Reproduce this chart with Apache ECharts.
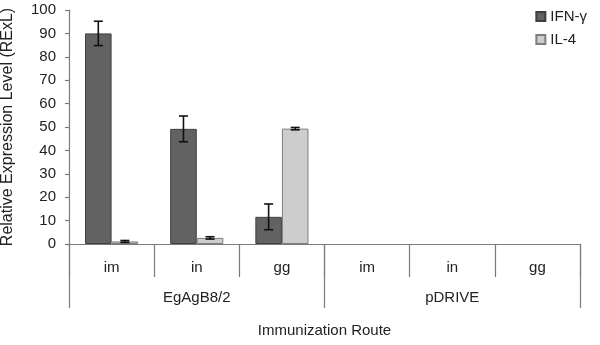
<!DOCTYPE html>
<html>
<head>
<meta charset="utf-8">
<script src="https://cdn.jsdelivr.net/npm/echarts@6/dist/echarts.min.js"></script>
<style>
  html, body { margin: 0; padding: 0; background: #fff; }
  #chart { width: 600px; height: 345px; }
</style>
</head>
<body>
<div id="chart"></div>
<script>
// Immunization routes, grouped by construct
const routes = ['im', 'in', 'gg', 'im', 'in', 'gg'];
const constructs = ['EgAgB8/2', 'pDRIVE'];
const yTicks = { min: 0, max: 100, interval: 10 };

// Relative expression levels (mean) and error (± half-range)
const ifnGamma = [90, 49.2, 11.6, 0, 0, 0];
const ifnGammaErr = [5.2, 5.5, 5.5, 0, 0, 0];
const il4 = [1.1, 2.6, 49.3, 0, 0, 0];
const il4Err = [0.4, 0.5, 0.5, 0, 0, 0];

const GAP = 0.376; // fraction of each category left empty

// zero-height bars get no outline so nothing shows on the axis
function barData(values) {
  return values.map(v => v === 0 ? { value: v, itemStyle: { borderWidth: 0 } } : v);
}

function errorSeries(values, errs, side) {
  return {
    type: 'custom',
    xAxisIndex: 0,
    z: 5,
    silent: true,
    data: values.map((v, i) => [i, v, errs[i]]),
    renderItem: function (params, api) {
      const err = api.value(2);
      if (!(api.value(1) > 0)) return null;
      const band = api.size([1, 0])[0];
      const barW = band * (1 - GAP) / 2;
      const mid = api.coord([api.value(0), api.value(1)]);
      const x = mid[0] + side * barW / 2;
      const top = api.coord([api.value(0), api.value(1) + err])[1];
      const bot = api.coord([api.value(0), api.value(1) - err])[1];
      const cap = 4.5;
      const style = { stroke: '#111', lineWidth: 1.6 };
      return {
        type: 'group',
        children: [
          { type: 'line', shape: { x1: x, y1: top, x2: x, y2: bot }, style: style },
          { type: 'line', shape: { x1: x - cap, y1: top, x2: x + cap, y2: top }, style: style },
          { type: 'line', shape: { x1: x - cap, y1: bot, x2: x + cap, y2: bot }, style: style }
        ]
      };
    }
  };
}

const axisGrey = '#7a7a7a';
const font = 'Liberation Sans, Arial, sans-serif';

const chart = echarts.init(document.getElementById('chart'));
chart.setOption({
  animation: false,
  textStyle: { fontFamily: font },
  grid: { left: 69, right: 20, top: 10, bottom: 101, containLabel: false, outerBoundsMode: 'none' },
  legend: {
    orient: 'vertical',
    right: 8,
    top: 4,
    icon: 'rect',
    itemWidth: 9,
    itemHeight: 9,
    itemGap: 8,
    textStyle: { fontSize: 15, color: '#222', fontFamily: font },
    data: ['IFN-γ', 'IL-4']
  },
  xAxis: [
    {
      type: 'category',
      data: routes,
      position: 'bottom',
      axisLine: { lineStyle: { color: axisGrey, width: 1.2 } },
      axisTick: { show: true, length: 33, interval: 0, lineStyle: { color: axisGrey, width: 1.2 } },
      axisLabel: { fontSize: 15, color: '#222', margin: 16, interval: 0 },
      splitLine: { show: false }
    },
    {
      type: 'category',
      data: constructs,
      position: 'bottom',
      axisLine: { show: true, lineStyle: { color: axisGrey, width: 1.2 } },
      axisTick: { show: true, length: 64, interval: 0, lineStyle: { color: axisGrey, width: 1.2 } },
      axisLabel: { fontSize: 15, color: '#222', margin: 46, interval: 0 },
      name: 'Immunization Route',
      nameLocation: 'middle',
      nameGap: 79,
      nameTextStyle: { fontSize: 15, color: '#222' }
    }
  ],
  yAxis: {
    type: 'value',
    min: yTicks.min,
    max: yTicks.max,
    interval: yTicks.interval,
    axisLine: { show: true, lineStyle: { color: axisGrey, width: 1.2 } },
    axisTick: { show: true, length: 4, lineStyle: { color: axisGrey, width: 1.2 } },
    axisLabel: { fontSize: 15, color: '#222', margin: 13 },
    splitLine: { show: false },
    name: 'Relative Expression Level (RExL)',
    nameLocation: 'middle',
    nameGap: 53,
    nameRotate: 90,
    nameTextStyle: { fontSize: 16, color: '#222' }
  },
  series: [
    {
      name: 'IFN-γ',
      type: 'bar',
      xAxisIndex: 0,
      data: barData(ifnGamma),
      barGap: '0%',
      barCategoryGap: (GAP * 100) + '%',
      itemStyle: { color: '#626262', borderColor: '#3f3f3f', borderWidth: 1 }
    },
    {
      name: 'IL-4',
      type: 'bar',
      xAxisIndex: 0,
      data: barData(il4),
      barGap: '0%',
      barCategoryGap: (GAP * 100) + '%',
      itemStyle: { color: '#cdcdcd', borderColor: '#7d7d7d', borderWidth: 1 }
    },
    errorSeries(ifnGamma, ifnGammaErr, -1),
    errorSeries(il4, il4Err, 1)
  ]
});
</script>
</body>
</html>
